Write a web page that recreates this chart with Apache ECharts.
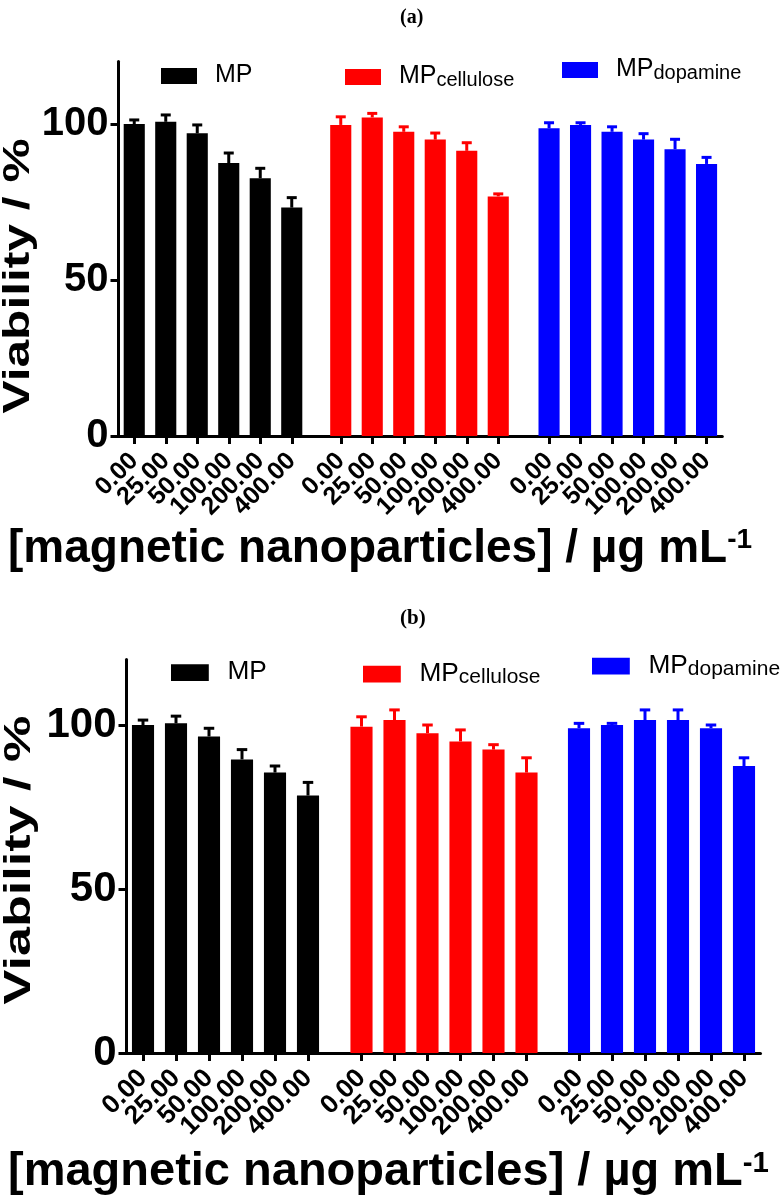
<!DOCTYPE html>
<html>
<head>
<meta charset="utf-8">
<script src="https://cdn.jsdelivr.net/npm/echarts@6/dist/echarts.min.js"></script>
<style>html,body{margin:0;padding:0;background:#fff}#c{width:783px;height:1201px}</style>
</head>
<body>
<div id="c"></div>
<script>
// ---------- data ----------
const categories = ['0.00', '25.00', '50.00', '100.00', '200.00', '400.00'];
const seriesNames = ['MP', 'MPcellulose', 'MPdopamine'];
const yTicks = [0, 50, 100];
const yMax = 120;

// panel (a)
const aMP     = [100.0, 100.7, 97.0, 87.5, 82.6, 73.2];
const aMPErr  = [1.3, 2.2, 2.7, 3.2, 3.2, 3.2];
const aCel    = [99.7, 102.1, 97.5, 95.0, 91.4, 76.8];
const aCelErr = [2.6, 1.3, 1.6, 2.1, 2.6, 0.8];
const aDop    = [98.6, 99.7, 97.5, 95.0, 91.9, 87.2];
const aDopErr = [1.8, 0.7, 1.6, 1.9, 3.2, 2.1];

// panel (b)
const bMP     = [100.0, 100.5, 96.5, 89.5, 85.5, 78.5];
const bMPErr  = [1.5, 2.2, 2.5, 3.0, 2.0, 4.0];
const bCel    = [99.5, 101.5, 97.5, 95.0, 92.5, 85.5];
const bCelErr = [3.0, 3.1, 2.5, 3.5, 1.5, 4.5];
const bDop    = [99.0, 100.0, 101.5, 101.5, 99.0, 87.5];
const bDopErr = [1.5, 0.5, 3.1, 3.1, 1.0, 2.5];

const colors = ['#000000', '#ff0000', '#0000ff'];
// ---------- layout ----------
const FONT = "'Liberation Sans', Arial, sans-serif";
const panels = [
  { title: '(a)', titleTop: 8, vals: [aMP, aCel, aDop], errs: [aMPErr, aCelErr, aDopErr],
    top: 61.6, bottom: 436, groupLeft: [118.5, 325, 533.3], groupW: 189, s: 1.0,
    legend: [[161, 63], [345, 56], [562, 49]], xTitleTop: 526, xTitleSize: 46, yName: [19, 276] },
  { title: '(b)', titleTop: 608, vals: [bMP, bCel, bDop], errs: [bMPErr, bCelErr, bDopErr],
    top: 659.4, bottom: 1053, groupLeft: [126.5, 345, 562.5], groupW: 198, s: 1.05,
    legend: [[171, 659], [363, 652], [592, 644]], xTitleTop: 1149, xTitleSize: 47, yName: [20, 860] }
];

const grid = [], xAxis = [], yAxis = [], series = [], legend = [], title = [], graphic = [];

function errRender(color, capW) {
  return function (params, api) {
    const x = api.value(0);
    const p0 = api.coord([x, api.value(1)]);
    const p1 = api.coord([x, api.value(2)]);
    return { type: 'group', children: [
      { type: 'line', shape: { x1: p0[0], y1: p0[1], x2: p1[0], y2: p1[1] }, style: { stroke: color, lineWidth: 3 } },
      { type: 'line', shape: { x1: p1[0] - capW / 2, y1: p1[1], x2: p1[0] + capW / 2, y2: p1[1] }, style: { stroke: color, lineWidth: 3 } }
    ] };
  };
}

panels.forEach((P, pi) => {
  const s = P.s;
  const fi = grid.length;
  const left0 = P.groupLeft[0];
  const right0 = P.groupLeft[2] + P.groupW;
  grid.push({ left: left0, width: right0 - left0, top: P.top, height: P.bottom - P.top,
    containLabel: false, outerBoundsMode: 'none' });
  xAxis.push({ gridIndex: fi, type: 'value', min: 0, max: 1,
    axisLine: { show: true, lineStyle: { color: '#000', width: 3 } },
    axisTick: { show: false }, axisLabel: { show: false }, splitLine: { show: false } });
  yAxis.push({ gridIndex: fi, type: 'value', min: 0, max: yMax, interval: 50,
    axisLine: { show: true, lineStyle: { color: '#000', width: 3 } },
    axisTick: { show: true, length: 8, lineStyle: { color: '#000', width: 3 }, customValues: yTicks },
    axisLabel: { show: true, customValues: yTicks, margin: 10, fontFamily: FONT, fontWeight: 'bold',
      fontSize: 40 * s, color: '#000' },
    splitLine: { show: false } });

  for (let g = 0; g < 3; g++) {
    const gi = grid.length;
    grid.push({ left: P.groupLeft[g], width: P.groupW, top: P.top, height: P.bottom - P.top,
      containLabel: false, outerBoundsMode: 'none' });
    xAxis.push({ gridIndex: gi, type: 'category', data: categories,
      axisLine: { show: false },
      axisTick: { show: true, alignWithLabel: true, length: 8, lineStyle: { color: '#000', width: 3 } },
      axisLabel: { interval: 0, rotate: 45, margin: 21, fontFamily: FONT, fontWeight: 'bold',
        fontSize: 25 * s, color: '#000' } });
    yAxis.push({ gridIndex: gi, type: 'value', min: 0, max: yMax, show: false });
    series.push({ type: 'bar', name: seriesNames[g], xAxisIndex: gi, yAxisIndex: gi,
      data: P.vals[g], barWidth: '67%', itemStyle: { color: colors[g] }, z: 3 });
    series.push({ type: 'custom', name: seriesNames[g] + '_err', xAxisIndex: gi, yAxisIndex: gi,
      data: P.vals[g].map((v, i) => [i, v, v + P.errs[g][i]]),
      renderItem: errRender(colors[g], 10 * s), z: 2, silent: true });
  }

  P.legend.forEach((pos, g) => {
    legend.push({ left: pos[0], top: pos[1], padding: 0, selectedMode: false,
      data: [seriesNames[g]], icon: 'rect', itemWidth: 36 * s, itemHeight: 16 * s, itemGap: 0,
      formatter: function (name) {
        if (name === 'MP') return '{m|MP}';
        return '{m|MP}{s|' + name.slice(2) + '}';
      },
      textStyle: { color: '#000', fontFamily: FONT,
        rich: {
          m: { fontSize: 25 * s, fontFamily: FONT, color: '#000', padding: [0, 0, 0, 13 * s], verticalAlign: 'top', lineHeight: 26 * s },
          s: { fontSize: 20 * s, fontFamily: FONT, color: '#000', verticalAlign: 'bottom', padding: [14 * s, 0, 0, 0], lineHeight: 20 * s }
        } } });
  });

  title.push({ text: P.title, left: 400, top: P.titleTop, padding: 0,
    textStyle: { fontFamily: "'Liberation Serif', 'Times New Roman', serif", fontWeight: 'bold', fontSize: 20 * s, color: '#000' } });
  title.push({ text: '[magnetic nanoparticles] / µg mL{sup|-1}', left: 8, top: P.xTitleTop, padding: 0,
    textStyle: { fontFamily: FONT, fontWeight: 'bold', fontSize: P.xTitleSize, color: '#000',
      rich: { sup: { fontFamily: FONT, fontWeight: 'bold', fontSize: 28 * s, color: '#000', verticalAlign: 'top', padding: [0, 0, 16 * s, 0] } } } });

  graphic.push({ type: 'text', x: P.yName[0], y: P.yName[1], rotation: Math.PI / 2, scaleX: 1.38,
    style: { text: 'Viability / %', font: 'bold ' + (36 * s) + "px 'Liberation Sans', Arial, sans-serif",
      fill: '#000', textAlign: 'center', textVerticalAlign: 'middle' } });
});

const chart = echarts.init(document.getElementById('c'), null, { renderer: 'canvas' });
chart.setOption({ animation: false, backgroundColor: '#fff', grid, xAxis, yAxis, series, legend, title, graphic });
</script>
</body>
</html>
